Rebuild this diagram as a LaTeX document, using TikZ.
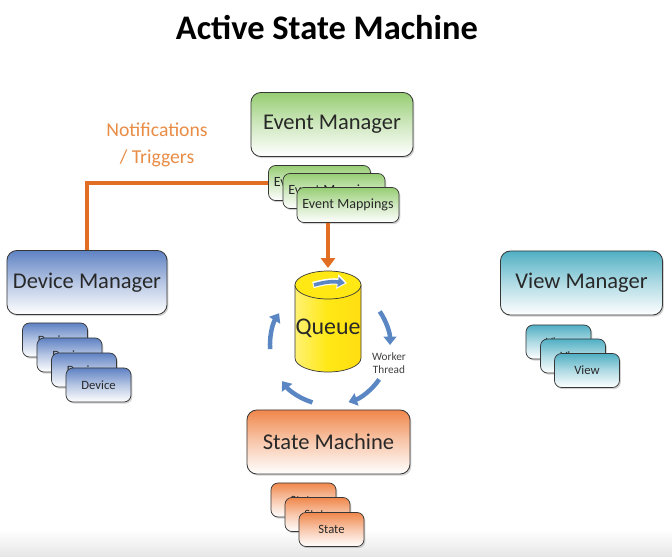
\documentclass[tikz,border=0pt]{standalone}
\usepackage{fontspec}
\setmainfont{Carlito}
\usetikzlibrary{shapes, arrows.meta, positioning, calc, shadows}
\definecolor{evgreen}{RGB}{150, 205, 115}
\definecolor{devblue}{RGB}{95, 130, 195}
\definecolor{viewteal}{RGB}{80, 175, 195}
\definecolor{stateorange}{RGB}{240, 135, 75}
\definecolor{notiforange}{RGB}{225, 110, 35}
\definecolor{labelorange}{RGB}{232, 140, 70}
\definecolor{loopblue}{RGB}{90, 135, 195}
\definecolor{queueyellow}{RGB}{255, 232, 20}
\definecolor{boxedge}{RGB}{55, 55, 55}
\definecolor{inktext}{RGB}{40, 40, 40}

\tikzset{
  mgrbox/.style={draw=boxedge, line width=0.6pt, rounded corners=7pt,
    minimum width=4.05cm, minimum height=1.6cm, text=inktext,
    font=\fontsize{16}{18}\selectfont,
    drop shadow={shadow xshift=1pt, shadow yshift=-1.2pt, opacity=0.35}},
  itembox/.style={draw=boxedge, line width=0.5pt, rounded corners=5pt,
    minimum width=1.625cm, minimum height=0.85cm, text=inktext,
    font=\fontsize{9}{11}\selectfont,
    drop shadow={shadow xshift=1pt, shadow yshift=-1.2pt, opacity=0.35}},
  greenfill/.style={top color=evgreen, bottom color=white, middle color=evgreen!45},
  bluefill/.style={top color=devblue, bottom color=white, middle color=devblue!45},
  tealfill/.style={top color=viewteal, bottom color=white, middle color=viewteal!45},
  orangefill/.style={top color=stateorange, bottom color=white, middle color=stateorange!45},
  notifline/.style={draw=notiforange, line width=3.5pt},
  looparrow/.style={draw=loopblue, line width=3.2pt, -{Triangle[length=6pt, width=9pt]}},
}

\begin{document}
\begin{tikzpicture}[x=0.025cm, y=0.025cm]
  \useasboundingbox (0,0) rectangle (672,-557);
  \shade[top color=white, bottom color=black!10] (0,-530) rectangle (672,-557);

  % Title
  \node[font=\bfseries\fontsize{24.5}{27}\selectfont] (title) at (327,-28) {Active State Machine};

  % Event manager and its mappings
  \node[mgrbox, greenfill] (evmgr) at (332,-124.5) {Event Manager};
  \node[itembox, greenfill, minimum width=2.55cm, minimum height=0.875cm, font=\fontsize{10}{12}\selectfont] (evmap1) at (319.5,-183) {Event Mappings};
  \node[itembox, greenfill, minimum width=2.55cm, minimum height=0.875cm, font=\fontsize{10}{12}\selectfont] (evmap2) at (334,-191) {Event Mappings};
  \node[itembox, greenfill, minimum width=2.55cm, minimum height=0.875cm, font=\fontsize{10}{12}\selectfont] (evmap3) at (348,-205) {Event Mappings};

  % Device manager and devices
  \node[mgrbox, bluefill, minimum width=4.0cm] (devmgr) at (87,-282.5) {Device Manager};
  \node[itembox, bluefill] (dev1) at (55,-340) {Device};
  \node[itembox, bluefill] (dev2) at (69.5,-355) {Device};
  \node[itembox, bluefill] (dev3) at (84,-370) {Device};
  \node[itembox, bluefill] (dev4) at (98.5,-385) {Device};

  % View manager and views
  \node[mgrbox, tealfill] (viewmgr) at (581.5,-283) {View Manager};
  \node[itembox, tealfill] (view1) at (558.5,-342) {View};
  \node[itembox, tealfill] (view2) at (573,-356) {View};
  \node[itembox, tealfill] (view3) at (587,-370.5) {View};

  % State machine and states
  \node[mgrbox, orangefill, minimum width=4.075cm] (statemc) at (328.5,-442) {State Machine};
  \node[itembox, orangefill] (state1) at (303.5,-500) {State};
  \node[itembox, orangefill] (state2) at (317.5,-514.5) {State};
  \node[itembox, orangefill] (state3) at (331.5,-529.5) {State};

  % Queue
  \shade[draw=boxedge, line width=0.5pt, left color=queueyellow!60!white, right color=queueyellow!90!orange, middle color=queueyellow]
    (295,-285) -- (295,-358) arc[start angle=180, end angle=360, x radius=0.825cm, y radius=0.35cm] -- (361,-285) -- cycle;
  \filldraw[draw=boxedge, line width=0.5pt, fill=queueyellow] (328,-285) ellipse [x radius=0.825cm, y radius=0.35cm];
  \draw[white, line width=4.5pt, -{Triangle[length=7pt, width=10pt]}] (313,-285) to[bend left=12] (347,-283);
  \draw[loopblue, line width=2.6pt, -{Triangle[length=5pt, width=7pt]}] (314,-285) to[bend left=12] (345,-283);
  \coordinate (qtop) at (328,-268);
  \node[font=\fontsize{17}{19}\selectfont, text=inktext] (queue) at (328,-328) {Queue};

  % Worker thread loop
  \coordinate (qc) at (330,-345);
  \draw[looparrow] ($(qc)+(184:1.5cm)$) arc[start angle=184, end angle=148, radius=1.5cm];
  \draw[looparrow] ($(qc)+(34:1.5cm)$) arc[start angle=34, end angle=0, radius=1.5cm];
  \draw[looparrow] ($(qc)+(-35:1.5cm)$) arc[start angle=-35, end angle=-72, radius=1.5cm];
  \draw[looparrow] ($(qc)+(-107:1.5cm)$) arc[start angle=-107, end angle=-143, radius=1.5cm];
  \node[font=\fontsize{8}{9.5}\selectfont, text=black!75, align=center] (worker) at (389,-363) {Worker\\Thread};

  % Notifications / triggers
  \draw[notifline] (devmgr.north) |- (evmap1.west);
  \draw[notifline, -{Triangle[length=7pt, width=10pt]}] (evmap3.south -| qtop) -- (qtop);
  \node[font=\fontsize{14}{19}\selectfont, text=labelorange, align=center] (notif) at (157,-145) {Notifications\\/ Triggers};
\end{tikzpicture}
\end{document}
